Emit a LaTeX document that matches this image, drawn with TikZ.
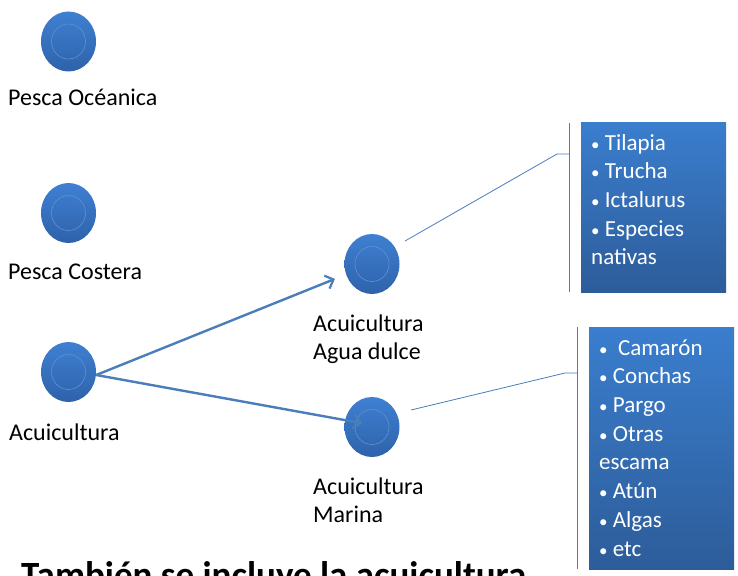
\documentclass[tikz,border=0pt]{standalone}
\usepackage{fontspec}
\setmainfont{Carlito}
\usetikzlibrary{shapes.geometric,arrows.meta,calc}
\definecolor{ctop}{HTML}{3F80D2}
\definecolor{cbot}{HTML}{2E62AA}
\definecolor{btop}{HTML}{3A7ECE}
\definecolor{bbot}{HTML}{2D5C99}
\definecolor{lnc}{HTML}{4A7EBB}
\definecolor{ring}{HTML}{5C92D6}
\newcommand{\smbul}{{\fontsize{17}{17}\selectfont •}}
\tikzset{
  blob/.style={ellipse, inner sep=0pt, minimum width=55pt, minimum height=60pt, top color=ctop, bottom color=cbot, draw=none},
  lbl/.style={anchor=base west, font=\fontsize{24}{28}\selectfont, inner sep=0pt},
  listbox/.style={rectangle, anchor=north west, top color=btop, bottom color=bbot, draw=none, inner sep=0pt},
  listtxt/.style={anchor=base west, inner sep=0pt, text=white, align=left, font=\fontsize{23}{28.7}\selectfont},
  arr/.style={draw=lnc, line width=2.4pt, -{Straight Barb[length=7pt,width=14pt,line width=2.2pt]}},
  thinln/.style={draw=lnc, line width=0.8pt}
}
\begin{document}
\begin{tikzpicture}[x=1pt,y=-1pt]
\clip (0,0) rectangle (738,575);
\fill[white] (0,0) rectangle (738,575);
% circles
\node[blob] (c1) at (68.5,41.5) {};
\node[blob] (c2) at (68.5,213) {};
\node[blob] (c3) at (68.5,372) {};
\node[blob] (c4) at (372,264) {};
\node[blob] (c5) at (372,427) {};
\foreach \n in {c1,c2,c3,c4,c5}{\draw[ring, line width=0.6pt] (\n.center) ellipse (17 and 17.5);}
% labels
\node[lbl] (l1) at (8,106) {Pesca Océanica};
\node[lbl] (l2) at (8,279) {Pesca Costera};
\node[lbl] (l3) at (9,440) {Acuicultura};
\node[lbl, align=left] (l4) at (313,359) {Acuicultura\\Agua dulce};
\node[lbl, align=left] (l5) at (313,522) {Acuicultura\\Marina};
% arrows
\draw[arr, shorten >=12pt] ($(c3.east)+(0,3)$) -- (c4);
\draw[arr, shorten >=10pt] ($(c3.east)+(0,3)$) -- ($(c5)+(0,-2)$);
% boxes
\node[listbox, minimum width=145pt, minimum height=170pt] (b1) at (581,122) {};
\node[listbox, minimum width=145pt, minimum height=242pt] (b2) at (589,327) {};
\node[listtxt] (t1) at (591,264.8) {\smbul\ Tilapia\\\smbul\ Trucha\\\smbul\ Ictalurus\\\smbul\ Especies\\nativas};
\node[listtxt] (t2) at (599,556) {\smbul\ \ Camarón\\\smbul\ Conchas\\\smbul\ Pargo\\\smbul\ Otras\\escama\\\smbul\ Atún\\\smbul\ Algas\\\smbul\ etc};
% brackets
\coordinate (k1a) at (569.5,123);
\coordinate (k1b) at (569.5,292);
\coordinate (k1c) at (569.5,154);
\coordinate (k1d) at (557,154);
\draw[thinln] (k1a) -- (k1b);
\draw[thinln] ($(c4)+(33,-23)$) -- (k1d) -- (k1c);
\coordinate (k2a) at (577,327);
\coordinate (k2b) at (577,569);
\coordinate (k2c) at (577,373);
\coordinate (k2d) at (565,373);
\draw[thinln] (k2a) -- (k2b);
\draw[thinln] ($(c5)+(39,-17)$) -- (k2d) -- (k2c);
% bottom title
\node[anchor=base west, inner sep=0pt, font=\bfseries\fontsize{37}{40}\selectfont] (title) at (21,587) {También se incluye la acuicultura};
\end{tikzpicture}
\end{document}
